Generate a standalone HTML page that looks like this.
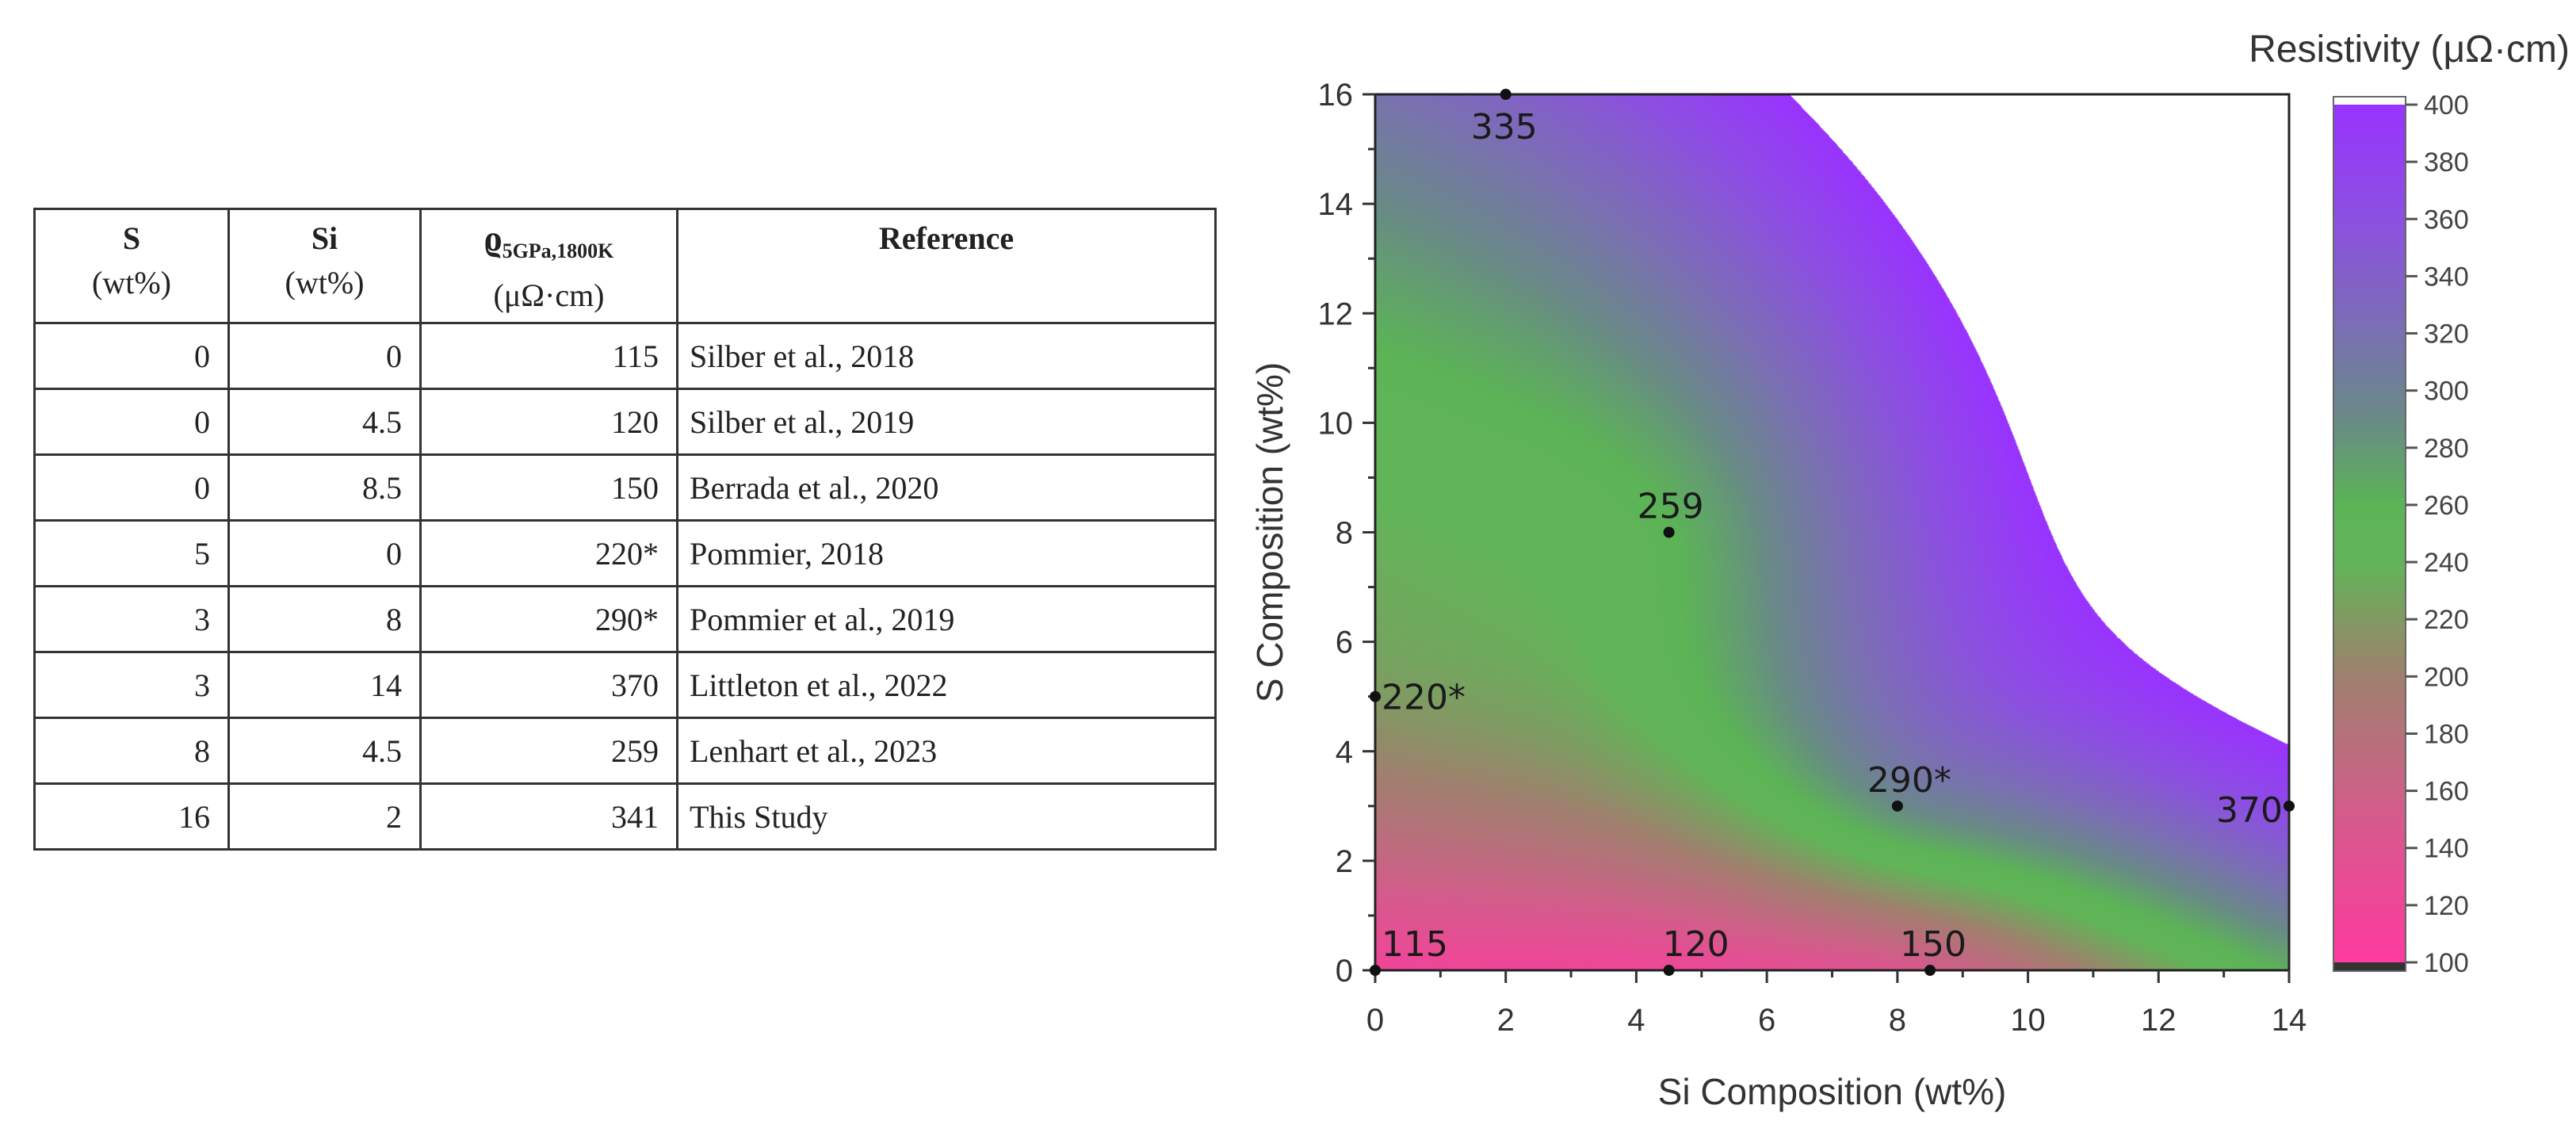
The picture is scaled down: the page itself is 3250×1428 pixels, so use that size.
<!DOCTYPE html>
<html><head><meta charset="utf-8"><style>
html,body{margin:0;padding:0;background:#fff;}
body{width:3250px;height:1428px;position:relative;overflow:hidden;}
table{position:absolute;left:42px;top:262px;width:1493px;border-collapse:collapse;font-family:"Liberation Serif",serif;font-size:40px;color:#222;}
td,th{border:3px solid #333;padding:0 22px;height:80px;}
th{font-weight:bold;vertical-align:top;text-align:center;line-height:56px;padding-top:8px;height:133px;}
th span{font-weight:normal;}
td.n{text-align:right;}
td.r{text-align:left;padding-left:14px;}
svg{position:absolute;left:0;top:0;}
#heat{position:absolute;left:1735px;top:119px;}
</style></head><body>
<table>
<tr><th style="width:198px">S<br><span>(wt%)</span></th><th style="width:195px">Si<br><span>(wt%)</span></th><th style="width:277px"><span style="font-weight:bold;font-size:46px">ϱ</span><sub style="font-size:26px">5GPa,1800K</sub><br><span>(μΩ·cm)</span></th><th>Reference</th></tr>
<tr><td class="n">0</td><td class="n">0</td><td class="n">115</td><td class="r">Silber et al., 2018</td></tr>
<tr><td class="n">0</td><td class="n">4.5</td><td class="n">120</td><td class="r">Silber et al., 2019</td></tr>
<tr><td class="n">0</td><td class="n">8.5</td><td class="n">150</td><td class="r">Berrada et al., 2020</td></tr>
<tr><td class="n">5</td><td class="n">0</td><td class="n">220*</td><td class="r">Pommier, 2018</td></tr>
<tr><td class="n">3</td><td class="n">8</td><td class="n">290*</td><td class="r">Pommier et al., 2019</td></tr>
<tr><td class="n">3</td><td class="n">14</td><td class="n">370</td><td class="r">Littleton et al., 2022</td></tr>
<tr><td class="n">8</td><td class="n">4.5</td><td class="n">259</td><td class="r">Lenhart et al., 2023</td></tr>
<tr><td class="n">16</td><td class="n">2</td><td class="n">341</td><td class="r">This Study</td></tr>
</table>
<canvas id="heat" width="1153" height="1105"></canvas>
<svg id="chart" width="3250" height="1428"></svg>
<script>
const siVals=[0,4.5,8.5,0,8,14,4.5,2];
const sVals=[0,0,0,5,3,3,8,16];
const resVals=[115,120,150,220,290,370,259,335];
const pointLabels=["115","120","150","220*","290*","370","259","335"];
const xTicks=[0,2,4,6,8,10,12,14];
const yTicks=[0,2,4,6,8,10,12,14,16];
const cbTicks=[100,120,140,160,180,200,220,240,260,280,300,320,340,360,380,400];

const PL=1735,PR=2888,PT=119,PB=1224;
const X=v=>PL+(v-0)/14*(PR-PL);
const Y=v=>PB-(v-0)/16*(PB-PT);
const CT=132,CB=1214;
const CY=v=>CB-(v-100)/300*(CB-CT);
const NS="http://www.w3.org/2000/svg";
const svg=document.getElementById('chart');
function mk(t,a,p){const e=document.createElementNS(NS,t);for(const k in a)e.setAttribute(k,a[k]);(p||svg).appendChild(e);return e;}

const stops=[[100,[255,58,160]],[150,[214,90,140]],[200,[160,128,110]],[240,[98,180,88]],[260,[92,180,86]],[290,[105,138,135]],[320,[122,112,178]],[360,[140,80,224]],[400,[153,51,255]]];
function cmap(v){if(v<=stops[0][0])return stops[0][1];for(let i=1;i<stops.length;i++){if(v<=stops[i][0]){const a=stops[i-1],b=stops[i],t=(v-a[0])/(b[0]-a[0]);return a[1].map((c,j)=>c+(b[1][j]-c)*t);}}return stops[stops.length-1][1];}

const n=resVals.length;
function phi(r){return r<1e-9?0:r*r*Math.log(r);}
const N=n+3;const A=[];for(let i=0;i<N;i++){A.push(new Array(N+1).fill(0));}
for(let i=0;i<n;i++){for(let j=0;j<n;j++){A[i][j]=phi(Math.hypot(siVals[i]-siVals[j],sVals[i]-sVals[j]));}
A[i][n]=1;A[i][n+1]=siVals[i];A[i][n+2]=sVals[i];A[n][i]=1;A[n+1][i]=siVals[i];A[n+2][i]=sVals[i];A[i][N]=resVals[i];}
for(let c=0;c<N;c++){let p=c;for(let r=c+1;r<N;r++)if(Math.abs(A[r][c])>Math.abs(A[p][c]))p=r;[A[c],A[p]]=[A[p],A[c]];
for(let r=0;r<N;r++){if(r===c)continue;const f=A[r][c]/A[c][c];for(let k=c;k<=N;k++)A[r][k]-=f*A[c][k];}}
const w=A.map((row,i)=>row[N]/row[i]);
function field(x,y){let v=w[n]+w[n+1]*x+w[n+2]*y;for(let i=0;i<n;i++)v+=w[i]*phi(Math.hypot(x-siVals[i],y-sVals[i]));return v;}

const cv=document.getElementById('heat');const ctx=cv.getContext('2d');
const W=cv.width,H=cv.height;const img=ctx.createImageData(W,H);
for(let py=0;py<H;py++){const yv=16-py/(H-1)*16;for(let px=0;px<W;px++){const xv=px/(W-1)*14;const v=field(xv,yv);const o=(py*W+px)*4;
if(v>400){img.data[o]=255;img.data[o+1]=255;img.data[o+2]=255;}else{const c=cmap(v);img.data[o]=c[0];img.data[o+1]=c[1];img.data[o+2]=c[2];}img.data[o+3]=255;}}
ctx.putImageData(img,0,0);

const frame=mk('rect',{x:PL,y:PT,width:PR-PL,height:PB-PT,fill:'none',stroke:'#222','stroke-width':3});

for(let v=0;v<=14;v+=1){const major=v%2===0;mk('line',{x1:X(v),x2:X(v),y1:PB,y2:PB+(major?16:9),stroke:'#333','stroke-width':3});}
xTicks.forEach(v=>{const t=mk('text',{x:X(v),y:PB+76,'text-anchor':'middle','font-family':'Liberation Sans, sans-serif','font-size':40,fill:'#333'});t.textContent=v;
});
for(let v=0;v<=16;v+=1){const major=v%2===0;mk('line',{x1:PL,x2:PL-(major?16:9),y1:Y(v),y2:Y(v),stroke:'#333','stroke-width':3});}
yTicks.forEach(v=>{const t=mk('text',{x:PL-28,y:Y(v)+14,'text-anchor':'end','font-family':'Liberation Sans, sans-serif','font-size':40,fill:'#333'});t.textContent=v;
});
const xt=mk('text',{x:(PL+PR)/2,y:1393,'text-anchor':'middle','font-family':'Liberation Sans, sans-serif','font-size':46,fill:'#333'});xt.textContent='Si Composition (wt%)';

const yt=mk('text',{x:0,y:0,'text-anchor':'middle','font-family':'Liberation Sans, sans-serif','font-size':46,fill:'#333',transform:`translate(1618,${(PT+PB)/2}) rotate(-90)`});yt.textContent='S Composition (wt%)';


const lblOff=[[8,-18,'start'],[-8,-18,'start'],[-38,-18,'start'],[8,16,'start'],[-38,-18,'start'],[-8,20,'end'],[-40,-18,'start'],[-44,56,'start']];
resVals.forEach((r,i)=>{const cx=X(siVals[i]),cy=Y(sVals[i]);
const d=mk('circle',{cx:cx,cy:cy,r:7,fill:'#111'});
const o=lblOff[i];const t=mk('text',{x:cx+o[0],y:cy+o[1],'text-anchor':o[2],'font-family':'DejaVu Sans, sans-serif','font-size':44,fill:'#1a1a1a'});t.textContent=pointLabels[i];
});

const defs=mk('defs',{});const lg=mk('linearGradient',{id:'cbg',x1:0,y1:1,x2:0,y2:0},defs);
stops.forEach(s=>{mk('stop',{offset:((s[0]-100)/300),'stop-color':`rgb(${s[1].map(Math.round).join(',')})`},lg);});
const cb=mk('rect',{x:2944,y:CY(400),width:91,height:CY(100)-CY(400),fill:'url(#cbg)'});
mk('rect',{x:2944,y:124,width:91,height:CY(400)-124,fill:'#fff'});
mk('rect',{x:2944,y:CY(100),width:91,height:11,fill:'#333'});
mk('rect',{x:2944,y:122,width:91,height:1103,fill:'none',stroke:'#666','stroke-width':2});
cbTicks.forEach(v=>{mk('line',{x1:3035,x2:3050,y1:CY(v),y2:CY(v),stroke:'#555','stroke-width':3});
const t=mk('text',{x:3058,y:CY(v)+12,'font-family':'Liberation Sans, sans-serif','font-size':34,fill:'#444'});t.textContent=v;
});
const ct=mk('text',{x:3242,y:78,'text-anchor':'end','font-family':'Liberation Sans, sans-serif','font-size':48,fill:'#333'});ct.textContent='Resistivity (μΩ·cm)';

</script>
</body></html>
